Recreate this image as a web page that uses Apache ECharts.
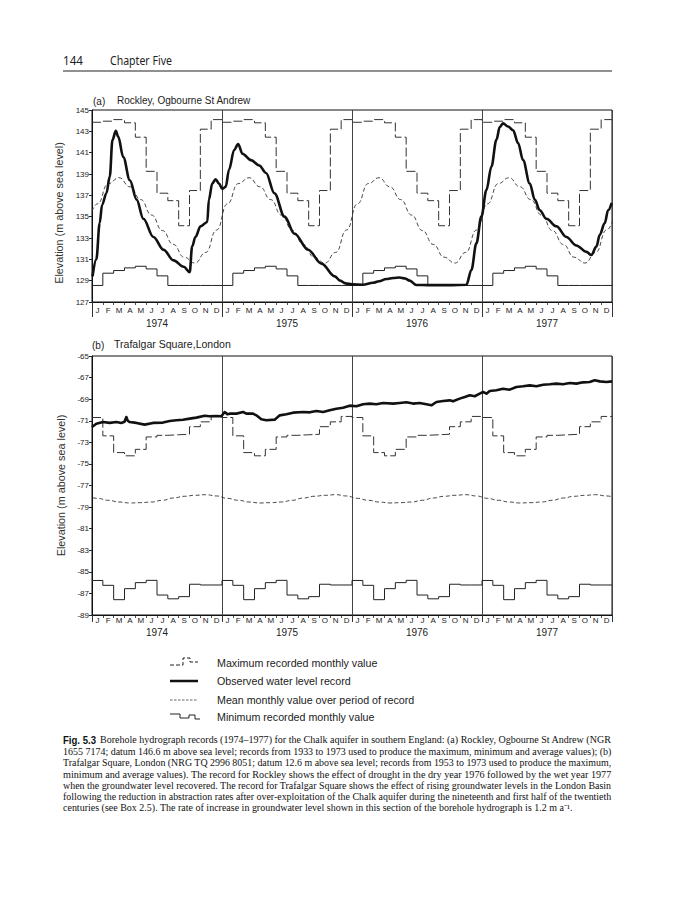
<!DOCTYPE html>
<html><head><meta charset="utf-8">
<script src="https://cdn.jsdelivr.net/npm/echarts@6/dist/echarts.min.js"></script>
<style>html,body{margin:0;padding:0;background:#fff}#c{width:691px;height:900px}</style>
</head><body><div id="c"></div>
<script>
// ---------------- data ----------------
const MONTHS = ['J','F','M','A','M','J','J','A','S','O','N','D'];
const YEARS = ['1974','1975','1976','1977'];
const TICKS_A = [127,129,131,133,135,137,139,141,143,145];
const TICKS_B = [-89,-87,-85,-83,-81,-79,-77,-75,-73,-71,-69,-67,-65];

// (a) Rockley – monthly statistics (Jan..Dec), repeated each year
const MAX_A  = [143.85,143.95,144.1,143.8,142.45,139.25,137.2,136.5,134.15,137.45,143.2,144.1];
const MIN_A  = [128.55,129.7,129.95,130.2,130.35,130.1,129.45,128.55,128.55,128.55,128.55,128.55];
const MEAN_A = [136.2,138.1,138.65,137.8,136.6,135.15,133.7,132.4,131.2,130.65,131.65,133.75];
// (a) observed record: time in months since 1 Jan 1974, level in m
const OBS_A_T = [0.05,0.4,0.71,0.93,1.33,1.64,1.89,2.2,2.42,2.88,3.5,4.12,4.74,5.67,6.6,7.53,8.47,9.02,9.24,9.55,10.02,10.64,10.79,11.1,11.41,11.72,12.03,12.34,12.65,13.12,13.49,13.89,14.67,15.44,16.06,16.84,17.77,18.7,19.94,21.18,22.42,22.9,23.4,24.0,25.0,25.94,26.5,27.17,27.8,28.4,28.9,29.33,29.94,31.0,33.0,34.56,35.02,35.48,35.94,36.41,36.87,37.33,37.64,37.94,38.4,38.87,39.33,39.79,40.41,40.87,41.33,41.94,42.87,43.79,44.71,45.64,46.1,46.56,46.87,47.33,47.64,47.97];
const OBS_A_V = [129.4,131.0,134.4,136.1,137.2,138.75,142.2,143.05,142.5,140.6,138.4,136.6,134.8,133.1,131.9,130.9,130.3,129.8,132.2,133.1,134.1,134.5,136.6,138.1,138.5,138.1,137.6,137.8,139.4,141.25,141.8,140.9,140.3,139.8,139.1,137.2,135.0,133.4,131.9,130.6,129.4,129.0,128.75,128.65,128.62,128.8,128.95,129.15,129.25,129.3,129.2,129.0,128.6,128.58,128.58,128.62,130.0,132.5,135.0,137.5,139.7,142.2,143.4,143.75,143.45,143.1,141.9,140.3,138.1,136.6,135.6,134.8,134.1,133.1,132.3,131.7,131.4,132.2,133.3,134.4,135.6,136.3];

// (b) Trafalgar Square – monthly statistics
const MAX_B  = [-70.7,-72.4,-73.95,-74.25,-73.65,-72.5,-72.35,-72.3,-72.25,-71.55,-71.1,-70.6];
const MIN_B  = [-85.8,-86.25,-87.58,-86.56,-86.0,-85.79,-87.15,-87.5,-87.3,-86.15,-86.22,-86.22];
const MEAN_B = [-78.19,-78.37,-78.53,-78.62,-78.59,-78.53,-78.37,-78.16,-78.0,-77.91,-77.85,-77.97];
const OBS_B_T = [0,0.4,1.02,1.63,2.25,2.71,3.0,3.17,3.3,3.48,4.1,4.86,5.63,6.55,7.17,7.79,8.4,9.02,9.63,10.4,10.86,11.48,11.94,12.25,12.5,12.71,13.33,13.94,14.25,14.86,15.17,15.63,16.1,16.86,17.33,17.94,18.56,19.48,20.1,20.71,21.33,21.94,22.56,23.17,23.79,24.4,25.02,25.64,26.25,26.87,27.79,28.41,29.02,29.64,30.25,30.87,31.33,31.79,32.41,33.02,33.33,33.94,34.41,34.87,35.33,35.79,36.1,36.41,36.71,37.33,37.94,38.56,39.17,39.79,40.41,41.02,41.64,42.25,42.87,43.48,44.1,44.71,45.33,45.94,46.41,46.87,47.48,48.0];
const OBS_B_V = [-71.58,-71.27,-71.12,-71.2,-71.12,-71.2,-71.1,-70.65,-71.0,-71.12,-71.2,-71.36,-71.2,-71.17,-71.02,-70.96,-70.9,-70.8,-70.71,-70.53,-70.59,-70.56,-70.59,-70.19,-70.4,-70.34,-70.34,-70.19,-70.34,-70.34,-70.5,-70.87,-70.96,-70.9,-70.5,-70.4,-70.25,-70.19,-70.22,-70.1,-70.19,-70.03,-69.88,-69.79,-69.6,-69.66,-69.47,-69.41,-69.47,-69.35,-69.41,-69.35,-69.29,-69.41,-69.35,-69.47,-69.57,-69.26,-69.17,-69.11,-69.2,-68.95,-68.8,-68.64,-68.73,-68.49,-68.33,-68.49,-68.24,-68.18,-68.03,-68.12,-67.87,-67.81,-67.72,-67.81,-67.66,-67.62,-67.56,-67.62,-67.5,-67.56,-67.44,-67.41,-67.25,-67.35,-67.41,-67.35];

const LEGEND = ['Maximum recorded monthly value','Observed water level record','Mean monthly value over period of record','Minimum recorded monthly value'];
const CAPTION = [
 'Borehole hydrograph records (1974\u20131977) for the Chalk aquifer in southern England: (a) Rockley, Ogbourne St Andrew (NGR',
 '1655 7174; datum 146.6 m above sea level; records from 1933 to 1973 used to produce the maximum, minimum and average values); (b)',
 'Trafalgar Square, London (NRG TQ 2996 8051; datum 12.6 m above sea level; records from 1953 to 1973 used to produce the maximum,',
 'minimum and average values). The record for Rockley shows the effect of drought in the dry year 1976 followed by the wet year 1977',
 'when the groundwater level recovered. The record for Trafalgar Square shows the effect of rising groundwater levels in the London Basin',
 'following the reduction in abstraction rates after over-exploitation of the Chalk aquifer during the nineteenth and first half of the twentieth',
 'centuries (see Box 2.5). The rate of increase in groundwater level shown in this section of the borehole hydrograph is 1.2 m a\u207B\u00B9.'
];

// ---------------- helpers ----------------
const N = YEARS.length * 12;
const stepData = v => { const d=[]; for(let i=0;i<N;i++) d.push([i, v[i%12]]); d.push([N, v[11]]); return d; };
const meanData = v => { const d=[[-0.5, v[11]]]; for(let i=0;i<N;i++) d.push([i+0.5, v[i%12]]); d.push([N+0.5, v[0]]); return d; };
const pairs = (t,v) => t.map((x,i)=>[x, v[i]]);
const monthTicks = Array.from({length:N+1},(_,i)=>i);
const monthCenters = Array.from({length:N},(_,i)=>i+0.5);
const yearCenters = YEARS.map((_,i)=>i*12+6);
const SANS = 'Liberation Sans';

function xAxes(g, mMargin, yMargin, yLen){
  return [
    {gridIndex:g, type:'value', min:0, max:N, position:'bottom',
     axisLine:{show:true, lineStyle:{color:'#111', width:1}},
     axisTick:{show:true, customValues:monthTicks, length:3, lineStyle:{color:'#222', width:0.8}},
     axisLabel:{customValues:monthCenters, formatter:v=>MONTHS[Math.round(v-0.5)%12], fontSize:8, color:'#222', margin:mMargin, fontFamily:SANS},
     splitLine:{show:false}},
    {gridIndex:g, type:'value', min:0, max:N, interval:12, position:'bottom', offset:0,
     axisLine:{show:false},
     axisTick:{show:true, length:yLen, lineStyle:{color:'#333', width:1}},
     axisLabel:{customValues:yearCenters, formatter:v=>YEARS[Math.floor(v/12)], fontSize:10, color:'#222', margin:yMargin, fontFamily:SANS},
     splitLine:{show:true, lineStyle:{color:'#444', width:1}}}
  ];
}
function yAxis(g, mn, mx, ticks, pad){
  return {gridIndex:g, type:'value', min:mn, max:mx, position:'left',
    axisLine:{show:true, lineStyle:{color:'#111', width:1}},
    axisTick:{show:true, customValues:ticks, length:3, lineStyle:{color:'#222'}},
    axisLabel:{customValues:ticks, fontSize:8, color:'#222', margin:3, fontFamily:SANS},
    splitLine:{show:false},
    name:'Elevation (m above sea level)', nameLocation:'middle', nameGap:19,
    nameTextStyle:{fontSize:10.8, color:'#333', fontFamily:SANS, padding:pad}};
}
function panelSeries(xi, yi, mx, mn, mean, obsT, obsV){
  const base = {type:'line', xAxisIndex:xi, yAxisIndex:yi, symbol:'none', showSymbol:false, silent:true};
  return [
    Object.assign({}, base, {name:'max', data:stepData(mx), step:'end', lineStyle:{color:'#333', width:1, type:[9,3]}, z:2}),
    Object.assign({}, base, {name:'min', data:stepData(mn), step:'end', lineStyle:{color:'#222', width:1}, z:2}),
    Object.assign({}, base, {name:'mean', data:meanData(mean), smooth:0.5, smoothMonotone:'x', lineStyle:{color:'#333', width:0.9, type:[4,2.5]}, z:3}),
    Object.assign({}, base, {name:'obs', data:pairs(obsT, obsV), smooth:xi===0?0.35:false, smoothMonotone:'x', lineStyle:{color:'#111', width:2.6, join:'round'}, z:5})
  ];
}

// text fitting (justified book text)
const ctx = document.createElement('canvas').getContext('2d');
function tw(text, size, family, weight){ ctx.font = (weight||'normal')+' '+size+'px "'+family+'"'; return ctx.measureText(text).width; }
function txt(text, x, y, size, family, opts){
  opts = opts || {};
  const el = {type:'text', x:x, y:y, silent:true,
    style:{text:text, fontSize:size, fontFamily:family, fontWeight:opts.weight||'normal', fill:opts.color||'#1a1a1a', align:'left', verticalAlign:'middle'}};
  if (opts.width) el.scaleX = opts.width / tw(text, size, family, opts.weight);
  if (opts.scale) el.scaleX = opts.scale;
  return el;
}

const graphics = [];
// page header
graphics.push(txt('144', 63, 60, 13.5, 'Noto Sans', {width:20, color:'#222'}));
graphics.push(txt('Chapter Five', 110, 60, 13.5, 'Noto Sans', {width:62, color:'#222'}));
graphics.push({type:'line', silent:true, shape:{x1:63,y1:71,x2:612,y2:71}, style:{stroke:'#222', lineWidth:1.2}});
// panel titles
graphics.push(txt('(a)', 93, 101, 10, SANS, {color:'#222'}));
graphics.push(txt('Rockley, Ogbourne St Andrew', 117, 101, 10, SANS, {color:'#222', width:134}));
graphics.push(txt('(b)', 92, 345, 10, SANS, {color:'#222'}));
graphics.push(txt('Trafalgar Square,London', 114, 345, 10, SANS, {color:'#222', width:117}));
// legend
const legY = [663, 681, 700, 717];
graphics.push({type:'polyline', silent:true, shape:{points:[[170,665],[183,665],[183,658],[190,658],[190,662],[198,662]]}, style:{stroke:'#222', lineWidth:1, lineDash:[4,2], fill:null}});
graphics.push({type:'line', silent:true, shape:{x1:170,y1:681,x2:198,y2:681}, style:{stroke:'#111', lineWidth:2.5}});
graphics.push({type:'line', silent:true, shape:{x1:170,y1:700,x2:198,y2:700}, style:{stroke:'#555', lineWidth:0.9, lineDash:[2.5,1.5]}});
graphics.push({type:'polyline', silent:true, shape:{points:[[170,714],[180,714],[180,718],[189,718],[189,715],[195,715],[195,719],[200,719]]}, style:{stroke:'#222', lineWidth:1, fill:null}});
LEGEND.forEach((t,i)=>graphics.push(txt(t, 217, legY[i], 10.7, SANS, {color:'#222'})));
// caption
const capY = [740, 751.5, 763, 774.2, 785.4, 796.5, 807.6];
const CAP_FONT = 'Liberation Serif', CAP_SIZE = 9.5;
graphics.push(txt('Fig. 5.3', 63, capY[0], 10, SANS, {weight:'bold', width:33, color:'#111'}));
let scales = [];
CAPTION.forEach((t,i)=>{
  if (i === CAPTION.length-1) return;
  const x0 = i===0 ? 100 : 63;
  const w = 612 - x0;
  scales.push(w / tw(t, CAP_SIZE, CAP_FONT));
  graphics.push(txt(t, x0, capY[i], CAP_SIZE, CAP_FONT, {width:w, color:'#111'}));
});
const avgScale = scales.reduce((a,b)=>a+b,0)/scales.length;
graphics.push(txt(CAPTION[CAPTION.length-1], 63, capY[6], CAP_SIZE, CAP_FONT, {scale:avgScale, color:'#111'}));

const option = {
  animation:false,
  backgroundColor:'#fff',
  grid:[
    {left:92, top:110, width:520, height:192, show:true, borderColor:'#111', borderWidth:1, containLabel:false},
    {left:92, top:356, width:520, height:259, show:true, borderColor:'#111', borderWidth:1, containLabel:false}
  ],
  xAxis:[].concat(xAxes(0, 4, 16, 15), xAxes(1, 1, 12, 7)),
  yAxis:[yAxis(0,127,145,TICKS_A,[0,14,0,0]), yAxis(1,-89,-65,TICKS_B,0)],
  series:[].concat(
    panelSeries(0,0,MAX_A,MIN_A,MEAN_A,OBS_A_T,OBS_A_V),
    panelSeries(2,1,MAX_B,MIN_B,MEAN_B,OBS_B_T,OBS_B_V)
  ),
  graphic:graphics
};
const chart = echarts.init(document.getElementById('c'), null, {renderer:'svg'});
chart.setOption(option);
</script>
</body></html>
